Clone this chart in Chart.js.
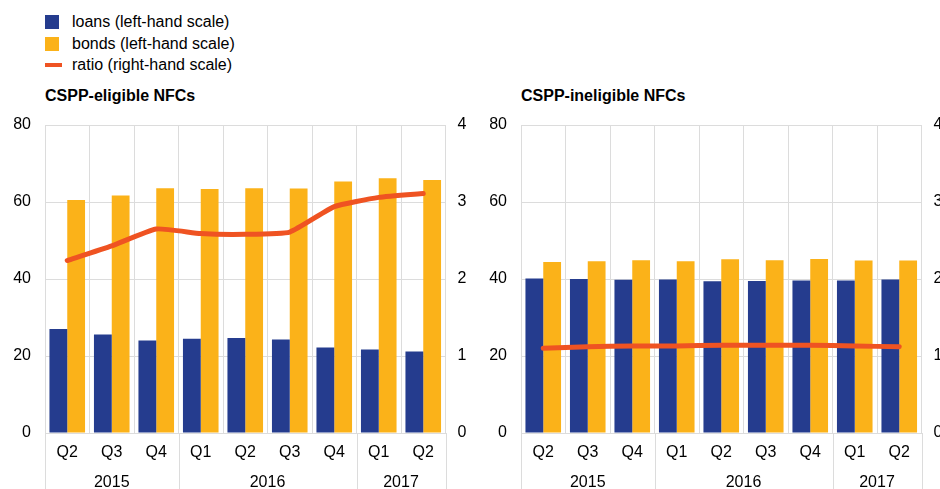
<!DOCTYPE html>
<html>
<head>
<meta charset="utf-8">
<script src="https://cdn.jsdelivr.net/npm/chart.js@4.4.1/dist/chart.umd.min.js"></script>
<style>
  html, body { margin: 0; padding: 0; background: #fff; }
  body { width: 940px; height: 489px; position: relative; overflow: hidden;
         font-family: "Liberation Sans", Arial, sans-serif; color: #000; }
  .legend { position: absolute; left: 45px; top: 11px; font-size: 16px; }
  .legend .row { position: relative; height: 21.5px; line-height: 21.5px; padding-left: 27px; white-space: nowrap; }
  .legend .sw { position: absolute; left: 0; }
  .legend .box { top: 4px; width: 14px; height: 14px; }
  .legend .ln { top: 9px; width: 17px; height: 4px; }
  .title { position: absolute; top: 87px; font-size: 16px; font-weight: bold; white-space: nowrap; }
  .panel { position: absolute; top: 110px; width: 470px; height: 379px; }
  canvas { display: block; }
</style>
</head>
<body>
<div class="legend" id="legend"></div>
<div class="title" style="left:45px">CSPP-eligible NFCs</div>
<div class="title" style="left:521px">CSPP-ineligible NFCs</div>
<div class="panel" style="left:0"><canvas id="eligible" width="470" height="379"></canvas></div>
<div class="panel" style="left:470px"><canvas id="ineligible" width="470" height="379"></canvas></div>
<script>
// Quarterly categories, Q2 2015 - Q2 2017
const quarters = ['Q2', 'Q3', 'Q4', 'Q1', 'Q2', 'Q3', 'Q4', 'Q1', 'Q2'];
const yearLabels = ['2015', '2016', '2017'];
const yearSpans = [3, 4, 2];

// Left-hand scale
const leftTicks = [0, 20, 40, 60, 80];
// Right-hand scale
const rightTicks = [0, 1, 2, 3, 4];

// CSPP-eligible NFCs
const eligibleLoans = [27.0, 25.6, 24.0, 24.5, 24.7, 24.3, 22.2, 21.7, 21.2];
const eligibleBonds = [60.5, 61.7, 63.6, 63.4, 63.6, 63.5, 65.3, 66.2, 65.7];
const eligibleRatio = [2.24, 2.43, 2.65, 2.59, 2.58, 2.61, 2.94, 3.06, 3.11];

// CSPP-ineligible NFCs
const ineligibleLoans = [40.1, 40.0, 39.8, 39.9, 39.4, 39.5, 39.6, 39.6, 39.9];
const ineligibleBonds = [44.4, 44.6, 44.9, 44.6, 45.1, 44.9, 45.2, 44.8, 44.8];
const ineligibleRatio = [1.10, 1.12, 1.13, 1.13, 1.14, 1.14, 1.14, 1.13, 1.12];

const seriesNames = ['loans (left-hand scale)', 'bonds (left-hand scale)', 'ratio (right-hand scale)'];

const BLUE = '#253c8e';
const YELLOW = '#fbb219';
const ORANGE = '#ef5322';
const GRID = '#dcdcdc';
const FONT = { family: '"Liberation Sans", Arial, sans-serif', size: 16 };

// Legend
const legendEl = document.getElementById('legend');
[[seriesNames[0], BLUE, 'box'], [seriesNames[1], YELLOW, 'box'], [seriesNames[2], ORANGE, 'ln']].forEach(([name, color, kind]) => {
  const row = document.createElement('div');
  row.className = 'row';
  const sw = document.createElement('span');
  sw.className = 'sw ' + kind;
  sw.style.background = color;
  row.appendChild(sw);
  row.appendChild(document.createTextNode(name));
  legendEl.appendChild(row);
});

// Year row under the quarter labels, with separators between years
const yearAxis = {
  id: 'yearAxis',
  afterDraw(chart) {
    const x = chart.scales.x;
    const area = chart.chartArea;
    const ctx = chart.ctx;
    const step = x.getPixelForValue(1) - x.getPixelForValue(0);
    ctx.save();
    ctx.strokeStyle = GRID;
    ctx.lineWidth = 1;
    ctx.fillStyle = '#000';
    ctx.font = `${FONT.size}px ${FONT.family}`;
    ctx.textAlign = 'center';
    ctx.textBaseline = 'middle';
    let start = 0;
    const edges = [];
    yearLabels.forEach((label, i) => {
      const end = start + yearSpans[i] - 1;
      const left = x.getPixelForValue(start) - step / 2;
      const right = x.getPixelForValue(end) + step / 2;
      edges.push(left, right);
      ctx.fillText(label, (x.getPixelForValue(start) + x.getPixelForValue(end)) / 2, area.bottom + 50);
      start = end + 1;
    });
    [...new Set(edges.map(e => Math.round(e)))].forEach(e => {
      ctx.beginPath();
      ctx.moveTo(e + 0.5, area.bottom);
      ctx.lineTo(e + 0.5, chart.height);
      ctx.stroke();
    });
    ctx.restore();
  }
};

// Fixed axis thickness, no extra room reserved for edge labels
const fixWidth = w => s => { s.width = w; s.paddingTop = 0; s.paddingBottom = 0; };

function makeChart(id, loans, bonds, ratio, leftWidth, rightWidth) {
  return new Chart(document.getElementById(id), {
    type: 'bar',
    data: {
      labels: quarters,
      datasets: [
        { type: 'line', label: seriesNames[2], data: ratio, yAxisID: 'y1', order: 0,
          borderColor: ORANGE, backgroundColor: ORANGE, borderWidth: 5, pointRadius: 0,
          tension: 0.15, borderCapStyle: 'round', borderJoinStyle: 'round' },
        { label: seriesNames[0], data: loans, yAxisID: 'y', order: 1,
          backgroundColor: BLUE, borderWidth: 0, categoryPercentage: 0.8, barPercentage: 1.0 },
        { label: seriesNames[1], data: bonds, yAxisID: 'y', order: 1,
          backgroundColor: YELLOW, borderWidth: 0, categoryPercentage: 0.8, barPercentage: 1.0 }
      ]
    },
    options: {
      responsive: false,
      animation: false,
      events: [],
      layout: { autoPadding: false, padding: { top: 15, left: 0, right: 0, bottom: 0 } },
      plugins: { legend: { display: false }, tooltip: { enabled: false } },
      scales: {
        x: {
          offset: true,
          grid: { color: GRID, drawTicks: false, offset: true },
          border: { color: GRID },
          ticks: { color: '#000', font: FONT, padding: 10, maxRotation: 0, autoSkip: false },
          afterFit: s => { s.height = 56; s.paddingLeft = 0; s.paddingRight = 0; }
        },
        y: {
          position: 'left', min: 0, max: 80,
          afterBuildTicks: s => { s.ticks = leftTicks.map(v => ({ value: v })); },
          grid: { color: GRID, drawTicks: false },
          border: { color: GRID },
          ticks: { color: '#000', font: FONT, padding: 14 },
          afterFit: fixWidth(leftWidth)
        },
        y1: {
          position: 'right', min: 0, max: 4,
          afterBuildTicks: s => { s.ticks = rightTicks.map(v => ({ value: v })); },
          grid: { display: false, drawTicks: false },
          border: { color: GRID },
          ticks: { color: '#000', font: FONT, padding: 12 },
          afterFit: fixWidth(rightWidth)
        }
      }
    },
    plugins: [yearAxis]
  });
}

makeChart('eligible', eligibleLoans, eligibleBonds, eligibleRatio, 45, 24.5);
makeChart('ineligible', ineligibleLoans, ineligibleBonds, ineligibleRatio, 51, 18.5);
</script>
</body>
</html>
